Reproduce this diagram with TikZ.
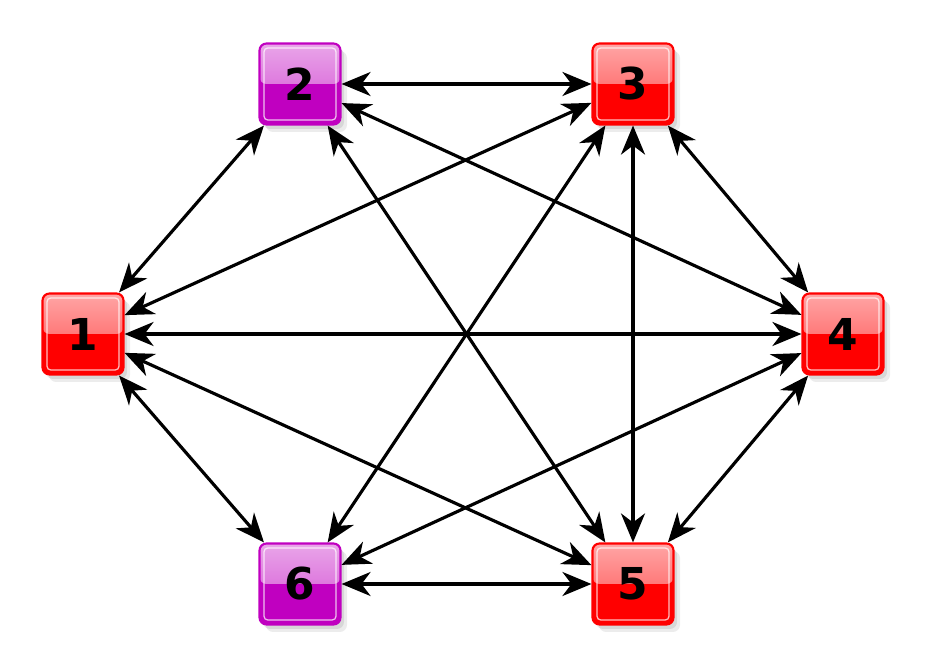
\documentclass[tikz,border=0pt]{standalone}
\usepackage{fontspec}
\setsansfont{DejaVu Sans}
\usetikzlibrary{arrows.meta, shadows}
\definecolor{cred}{HTML}{FF0000}
\definecolor{cpurple}{HTML}{C000C0}
\tikzset{
  every picture/.style={font=\sffamily\bfseries, line width=1.8pt},
  vertex/.style={draw=#1, fill=#1, rounded corners=4pt, minimum size=1.62cm, inner sep=0pt, line width=1.2pt,
    font=\fontsize{25}{25}\sffamily\bfseries,
    drop shadow={opacity=0.15, shadow xshift=0.13cm, shadow yshift=-0.15cm},
    drop shadow={opacity=0.2, shadow xshift=0.07cm, shadow yshift=-0.09cm},
    path picture={
      \shade[top color=#1!35!white, bottom color=#1!70!white]
        (path picture bounding box.north west) rectangle (path picture bounding box.east);
      \draw[white, opacity=0.75, line width=0.7pt, rounded corners=2pt]
        ([shift={(2.6pt,-2.6pt)}]path picture bounding box.north west) rectangle ([shift={(-2.6pt,2.6pt)}]path picture bounding box.south east);
    }},
  vertex/.default=cred,
  link/.style={{Stealth[length=5.8mm, width=4.8mm, inset=1.8mm]}-{Stealth[length=5.8mm, width=4.8mm, inset=1.8mm]}, draw=black, line width=1.8pt},
}
\begin{document}
\begin{tikzpicture}
  \useasboundingbox (0,0) rectangle (18.56,13.34);
  % the six stations
  \node[vertex] (n1) at (1.66,6.66) {1};
  \node[vertex=cpurple] (n2) at (6.00,11.66) {2};
  \node[vertex] (n3) at (12.66,11.66) {3};
  \node[vertex] (n4) at (16.86,6.66) {4};
  \node[vertex] (n5) at (12.66,1.66) {5};
  \node[vertex=cpurple] (n6) at (6.00,1.66) {6};
  % every pair except 2--6
  \foreach \a/\b in {1/2,1/3,1/4,1/5,1/6,2/3,2/4,2/5,3/4,3/5,3/6,4/5,4/6,5/6}
    \draw[link] (n\a) -- (n\b);
\end{tikzpicture}
\end{document}
